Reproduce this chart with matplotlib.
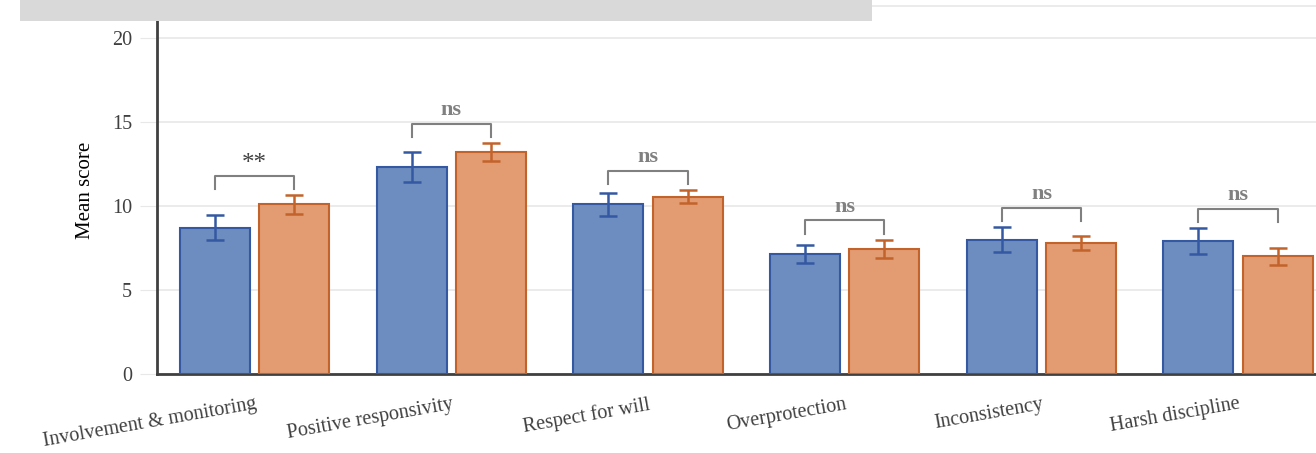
import numpy as np
import matplotlib.pyplot as plt
from matplotlib.patches import Rectangle

plt.rcParams['font.family'] = ['Liberation Serif', 'DejaVu Serif']

# data
categories = ['Involvement & monitoring', 'Positive responsivity', 'Respect for will',
              'Overprotection', 'Inconsistency', 'Harsh discipline']
group_a = [8.7, 12.3, 10.1, 7.15, 8.0, 7.9]
group_a_err = [0.75, 0.9, 0.7, 0.55, 0.75, 0.78]
group_b = [10.1, 13.2, 10.55, 7.45, 7.8, 7.0]
group_b_err = [0.55, 0.55, 0.4, 0.55, 0.42, 0.5]
signif = ['**', 'ns', 'ns', 'ns', 'ns', 'ns']

BLUE, BLUE_EDGE = '#6d8cbf', '#3558a3'
ORANGE, ORANGE_EDGE = '#e39b72', '#c2632c'

fig = plt.figure(figsize=(13.16, 4.53), dpi=100)
ax = fig.add_axes([0.1193, 0.1744, 0.8807, 0.8124])

x = np.arange(len(categories))
w = 0.356
off = 0.202

ax.bar(x - off, group_a, w, color=BLUE, edgecolor=BLUE_EDGE, linewidth=1.5, zorder=3)
ax.bar(x + off, group_b, w, color=ORANGE, edgecolor=ORANGE_EDGE, linewidth=1.5, zorder=3)
ax.errorbar(x - off, group_a, yerr=group_a_err, fmt='none', ecolor=BLUE_EDGE,
            elinewidth=1.8, capsize=6.5, capthick=1.8, zorder=4)
ax.errorbar(x + off, group_b, yerr=group_b_err, fmt='none', ecolor=ORANGE_EDGE,
            elinewidth=1.8, capsize=6.5, capthick=1.8, zorder=4)

# significance brackets
for i in range(len(categories)):
    top = max(group_a[i] + group_a_err[i], group_b[i] + group_b_err[i]) + 1.15
    ax.plot([i - off, i - off, i + off, i + off], [top - 0.8, top, top, top - 0.8],
            color='#808080', lw=1.5, zorder=5)
    if signif[i] == 'ns':
        ax.text(i, top + 0.2, 'ns', ha='center', va='bottom', fontsize=16,
                color='#808080', fontweight='bold')
    else:
        ax.text(i, top + 0.05, signif[i], ha='center', va='bottom', fontsize=18,
                color='#404040')

ax.set_xlim(-0.496, 5.396)
ax.set_ylim(0, 21.9)
ax.set_yticks([0, 5, 10, 15, 20])
ax.yaxis.grid(True, color='#e8e8e8', lw=1.2, zorder=0)
ax.set_axisbelow(True)
ax.tick_params(axis='y', length=12, color='#e8e8e8', labelsize=14.5, labelcolor='#404040', pad=6)
ax.set_xticks(x)
ax.set_xticklabels(categories, rotation=10, ha='right', rotation_mode='anchor',
                   fontsize=14.5, color='#404040')
ax.tick_params(axis='x', length=0, pad=15)
for lab in ax.get_xticklabels():
    lab.set_va('top')

ax.set_ylabel('Mean score', fontsize=15, color='black', labelpad=12)

ax.spines['left'].set_color('#404040')
ax.spines['left'].set_linewidth(2)
ax.spines['bottom'].set_color('#404040')
ax.spines['bottom'].set_linewidth(2)
ax.spines['right'].set_visible(False)
ax.spines['top'].set_color('#e8e8e8')
ax.spines['top'].set_linewidth(1.2)

# gray box at top (cropped legend area)
fig.patches.append(Rectangle((20 / 1316, 1 - 21 / 453), 852 / 1316, 21 / 453,
                             transform=fig.transFigure, facecolor='#d9d9d9',
                             edgecolor='none', zorder=10))

fig.savefig('out.png', dpi=100)
